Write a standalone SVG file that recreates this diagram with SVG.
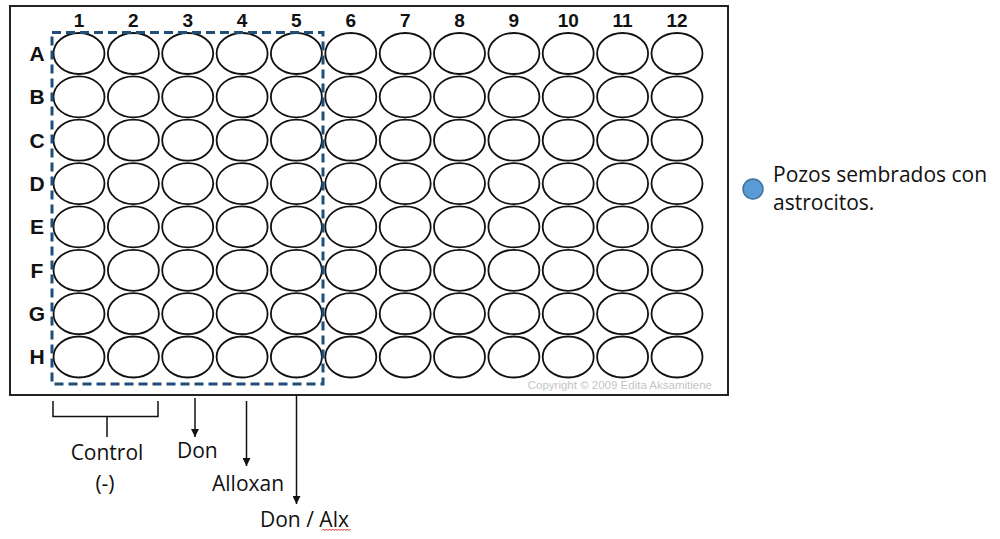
<svg xmlns="http://www.w3.org/2000/svg" width="1000" height="539" viewBox="0 0 1000 539">
<style>
.well{fill:#fff;stroke:#111;stroke-width:1.8}
.col{font-family:"Liberation Sans",Arial,sans-serif;font-weight:bold;font-size:19px;fill:#111;text-anchor:middle}
.row{font-family:"Liberation Sans",Arial,sans-serif;font-weight:bold;font-size:21px;fill:#111;text-anchor:middle}
.lbl{font-family:"Open Sans",sans-serif;font-size:21px;fill:#111}
.conn{stroke:#111;stroke-width:1.5;fill:none}
</style>
<defs>
<marker id="ah" viewBox="0 0 10 10" refX="10" refY="5" markerWidth="8" markerHeight="8" markerUnits="userSpaceOnUse" orient="auto">
<path d="M0,0 L10,5 L0,10 z" fill="#111"/>
</marker>
<g id="wellrow">
<ellipse class="well" cx="79" cy="0" rx="25.5" ry="20.5"/>
<ellipse class="well" cx="133.4" cy="0" rx="25.5" ry="20.5"/>
<ellipse class="well" cx="187.7" cy="0" rx="25.5" ry="20.5"/>
<ellipse class="well" cx="242.1" cy="0" rx="25.5" ry="20.5"/>
<ellipse class="well" cx="296.4" cy="0" rx="25.5" ry="20.5"/>
<ellipse class="well" cx="350.8" cy="0" rx="25.5" ry="20.5"/>
<ellipse class="well" cx="405.2" cy="0" rx="25.5" ry="20.5"/>
<ellipse class="well" cx="459.5" cy="0" rx="25.5" ry="20.5"/>
<ellipse class="well" cx="513.9" cy="0" rx="25.5" ry="20.5"/>
<ellipse class="well" cx="568.2" cy="0" rx="25.5" ry="20.5"/>
<ellipse class="well" cx="622.6" cy="0" rx="25.5" ry="20.5"/>
<ellipse class="well" cx="677" cy="0" rx="25.5" ry="20.5"/>
</g>
</defs>
<rect width="1000" height="539" fill="#fff"/>
<g id="plate">
<rect x="10" y="6" width="718" height="389" fill="#fff" stroke="#222" stroke-width="2"/>
<g id="col-labels">
<text class="col" x="79" y="27">1</text>
<text class="col" x="133.4" y="27">2</text>
<text class="col" x="187.7" y="27">3</text>
<text class="col" x="242.1" y="27">4</text>
<text class="col" x="296.4" y="27">5</text>
<text class="col" x="350.8" y="27">6</text>
<text class="col" x="405.2" y="27">7</text>
<text class="col" x="459.5" y="27">8</text>
<text class="col" x="513.9" y="27">9</text>
<text class="col" x="568.2" y="27">10</text>
<text class="col" x="622.6" y="27">11</text>
<text class="col" x="677" y="27">12</text>
</g>
<g id="row-labels">
<text class="row" x="37" y="61">A</text>
<text class="row" x="37" y="104.4">B</text>
<text class="row" x="37" y="147.7">C</text>
<text class="row" x="37" y="191">D</text>
<text class="row" x="37" y="234.4">E</text>
<text class="row" x="37" y="277.7">F</text>
<text class="row" x="37" y="321.1">G</text>
<text class="row" x="37" y="364.4">H</text>
</g>
<g id="wells">
<use href="#wellrow" y="53.5"/>
<use href="#wellrow" y="96.9"/>
<use href="#wellrow" y="140.2"/>
<use href="#wellrow" y="183.6"/>
<use href="#wellrow" y="226.9"/>
<use href="#wellrow" y="270.3"/>
<use href="#wellrow" y="313.7"/>
<use href="#wellrow" y="357"/>
</g>
<text x="712" y="389" font-family="'Liberation Sans',Arial,sans-serif" font-size="11.5" fill="#c4c4c4" text-anchor="end">Copyright © 2009 Edita Aksamitiene</text>
</g>
<g id="selection">
<rect x="52" y="32.5" width="271" height="351.5" fill="none" stroke="#1f4e79" stroke-width="3" stroke-dasharray="9 5"/>
</g>
<g id="connectors">
<path class="conn" d="M53,401 V416.5 H158 V401 M107,416.5 V437"/>
<line class="conn" x1="195" y1="398" x2="195" y2="437" marker-end="url(#ah)"/>
<line class="conn" x1="246.5" y1="401" x2="246.5" y2="466" marker-end="url(#ah)"/>
<line class="conn" x1="296.5" y1="395" x2="296.5" y2="504" marker-end="url(#ah)"/>
</g>
<g id="label-control">
<text class="lbl" x="107" y="460" text-anchor="middle">Control</text>
<text class="lbl" x="105" y="491" text-anchor="middle">(-)</text>
</g>
<g id="label-don"><text class="lbl" x="177" y="458">Don</text></g>
<g id="label-alloxan"><text class="lbl" x="212" y="491">Alloxan</text></g>
<g id="label-donalx">
<text class="lbl" x="260" y="527">Don / Alx</text>
<path d="M322,530.5 l1.5,-1.5 l1.5,1.5 l1.5,-1.5 l1.5,1.5 l1.5,-1.5 l1.5,1.5 l1.5,-1.5 l1.5,1.5 l1.5,-1.5 l1.5,1.5 l1.5,-1.5 l1.5,1.5 l1.5,-1.5 l1.5,1.5 l1.5,-1.5 l1.5,1.5 l1.5,-1.5 l1.5,1.5 l1.5,-1.5" fill="none" stroke="#e02020" stroke-width="1"/>
</g>
<g id="legend">
<circle cx="753" cy="189" r="10" fill="#5b9bd5" stroke="#41719c" stroke-width="1.5"/>
<text class="lbl" x="773" y="182">Pozos sembrados con</text>
<text class="lbl" x="773" y="210">astrocitos.</text>
</g>
</svg>
